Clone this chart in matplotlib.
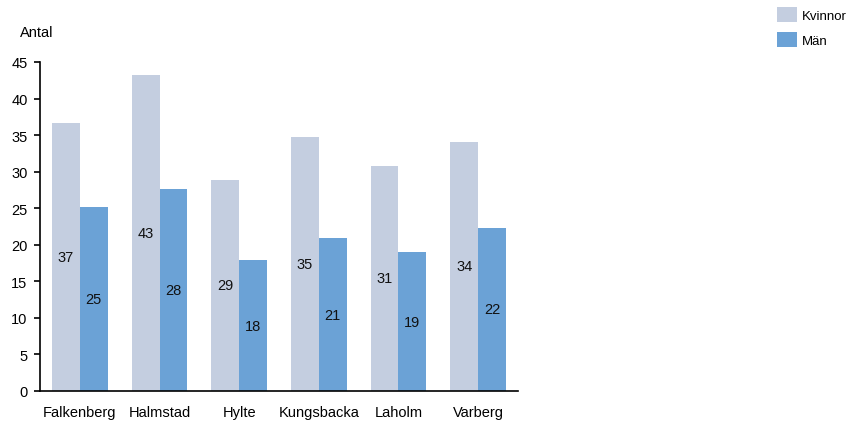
import numpy as np
import matplotlib.pyplot as plt

plt.rcParams['font.family'] = ['Liberation Sans', 'DejaVu Sans']

kommuner = ['Falkenberg', 'Halmstad', 'Hylte', 'Kungsbacka', 'Laholm', 'Varberg']
kvinnor = [36.6, 43.2, 28.9, 34.7, 30.8, 34.1]
man = [25.1, 27.6, 17.9, 20.9, 19.0, 22.3]

farg_kv = '#c4cee0'
farg_man = '#6ba2d6'
fs = 10.5

fig = plt.figure(figsize=(8.55, 4.27), dpi=100)
ax = fig.add_axes([0.0468, 0.082, 0.559, 0.7705])

x = np.arange(len(kommuner))
w = 0.35
b1 = ax.bar(x - w / 2, kvinnor, w, color=farg_kv, label='Kvinnor')
b2 = ax.bar(x + w / 2, man, w, color=farg_man, label='Män')

# etiketter mitt i staplarna
for bars, vals in [(b1, kvinnor), (b2, man)]:
    for r, v in zip(bars, vals):
        ax.text(r.get_x() + r.get_width() / 2, v / 2, f'{round(v)}',
                ha='center', va='center', fontsize=fs, color='#111111')

ax.set_xlim(-0.5, len(kommuner) - 0.5)
ax.set_ylim(0, 45)
ax.set_yticks(np.arange(0, 46, 5))
ax.set_xticks(x)
ax.set_xticklabels(kommuner)
ax.tick_params(axis='x', length=0, pad=10, labelsize=fs)
ax.tick_params(axis='y', direction='out', length=4, width=1.2, labelsize=fs, pad=5)
ax.spines['top'].set_visible(False)
ax.spines['right'].set_visible(False)
ax.spines['left'].set_linewidth(1.2)
ax.spines['bottom'].set_linewidth(1.2)

fig.text(20 / 855, 1 - 33 / 427, 'Antal', fontsize=fs, va='center', ha='left')

fig.legend(handles=[b1, b2], loc='upper left', bbox_to_anchor=(765 / 855, 1.01),
           frameon=False, fontsize=9.5, handlelength=1.5, handleheight=1.4,
           handletextpad=0.4, labelspacing=0.75)

fig.savefig('out.png', dpi=100)
